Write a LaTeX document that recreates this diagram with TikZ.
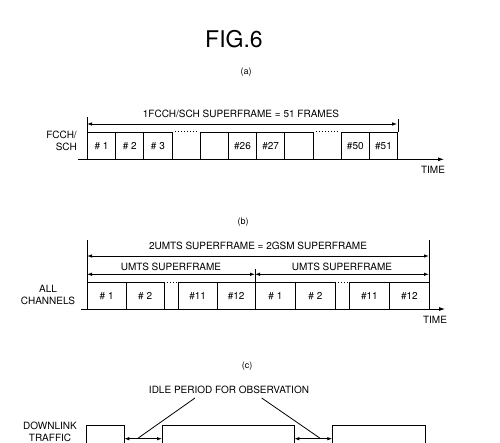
\documentclass[tikz,border=0pt]{standalone}
\usepackage{fontspec}
\setmainfont{TeX Gyre Heros}
\usetikzlibrary{arrows.meta}

\begin{document}
\begin{tikzpicture}[x=1pt,y=-1pt,line width=0.8pt,font=\fontsize{10}{12}\selectfont,
	slot/.style={draw,anchor=north west,inner sep=0pt},
	span/.style={{Latex[length=5pt,width=3.5pt]}-{Latex[length=5pt,width=3.5pt]}},
	timeaxis/.style={-{Latex[length=6pt,width=4pt]}},
	gapdots/.style={line width=1pt,dotted,shorten <=3pt,shorten >=3pt},
	partlabel/.style={font=\fontsize{9}{10}\selectfont}]
	\useasboundingbox (0,0) rectangle (500,443);
	\node (title) at (234,39.5) {\fontsize{23}{25}\selectfont FIG.6};

	% (a)
	\node[partlabel] (capa) at (246,72) {(a)};
	\foreach \n/\k/\t in {1/0/\#~1,2/1/\#~2,3/2/\#~3,4/4/,5/5/\#26,6/6/\#27,7/7/,8/9/\#50,9/10/\#51}
		\node[slot,minimum width=28.2pt,minimum height=27.3pt] (a\n) at ({87+28.2*\k},132) {\t};
	\draw[gapdots] (a3.north east) -- (a4.north west);
	\draw[gapdots] (a7.north east) -- (a8.north west);
	\coordinate (abase) at (78,159.3);
	\coordinate (aend) at (444,159.3);
	\draw[timeaxis] (abase) -- (aend);
	\node (timea) at (433,170) {TIME};
	\node[align=right,anchor=east,font=\fontsize{10}{11.7}\selectfont] (fcch) at (80.5,141) {FCCH/\\SCH};
	\draw (a1.north west) -- ++(0,-15.3) coordinate (ta1);
	\draw (a9.north east) -- ++(0,-13) coordinate (ta2);
	\coordinate (da1) at (87,124);
	\coordinate (da2) at (397.2,124);
	\draw[span] (da1) -- (da2);
	\node (spana) at (241,114) {1FCCH/SCH SUPERFRAME = 51 FRAMES};

	% (b)
	\node[partlabel] (capb) at (243,222) {(b)};
	\foreach \n/\x/\w/\t in {1/87/38.5/\#~1,2/125.5/38.5/\#~2,3/178/38.5/\#11,4/216.5/38.5/\#12,5/255/40/\#~1,6/295/40/\#~2,7/349/40/\#11,8/389/40/\#12}
		\node[slot,minimum width=\w pt,minimum height=26.7pt] (b\n) at (\x,282.3) {\t};
	\draw[gapdots,shorten <=2pt,shorten >=2pt] (b2.north east) -- (b3.north west);
	\draw[gapdots,shorten <=2pt,shorten >=2pt] (b6.north east) -- (b7.north west);
	\coordinate (bbase) at (81,309);
	\coordinate (bend) at (445,309);
	\draw[timeaxis] (bbase) -- (bend);
	\node (timeb) at (435,320) {TIME};
	\node[align=center] (allch) at (48,295) {ALL\\CHANNELS};
	\draw (b1.north west) -- ++(0,-42.3) coordinate (tb1);
	\draw (b8.north east) -- ++(0,-42.3) coordinate (tb2);
	\draw (b5.north west) -- ++(0,-13) coordinate (tb3);
	\coordinate (db1) at (87,256);
	\coordinate (db2) at (429,256);
	\draw[span] (db1) -- (db2);
	\node (spanb) at (258,246) {2UMTS SUPERFRAME = 2GSM SUPERFRAME};
	\coordinate (du1) at (87,274.3);
	\coordinate (du2) at (255,274.3);
	\coordinate (du3) at (429,274.3);
	\draw[span] (du1) -- (du2);
	\draw[span] (du2) -- (du3);
	\node (umts1) at (171,266.5) {UMTS SUPERFRAME};
	\node (umts2) at (342,266.5) {UMTS SUPERFRAME};

	% (c)
	\node[partlabel] (capc) at (247,366) {(c)};
	\node (idle) at (229,390) {IDLE PERIOD FOR OBSERVATION};
	\node[align=center] (dl) at (50,431.7) {DOWNLINK\\TRAFFIC};
	\draw (86,443) |- (124.3,425) -- (124.3,443);
	\draw (162,443) |- (294.3,425) -- (294.3,443);
	\draw (332.3,443) |- (425,425) -- (425,443);
	\coordinate (g1) at (124.3,438.7);
	\coordinate (g2) at (162,438.7);
	\coordinate (g3) at (294.3,438.7);
	\coordinate (g4) at (332.3,438.7);
	\draw[span] (g1) -- (g2);
	\draw[span] (g3) -- (g4);
	\coordinate (l1) at (195,398);
	\coordinate (l2) at (261.7,398);
	\coordinate (h1) at (138,438.2);
	\coordinate (h2) at (320,438.2);
	\draw (l1) -- (h1);
	\draw (l2) -- (h2);
\end{tikzpicture}
\end{document}
